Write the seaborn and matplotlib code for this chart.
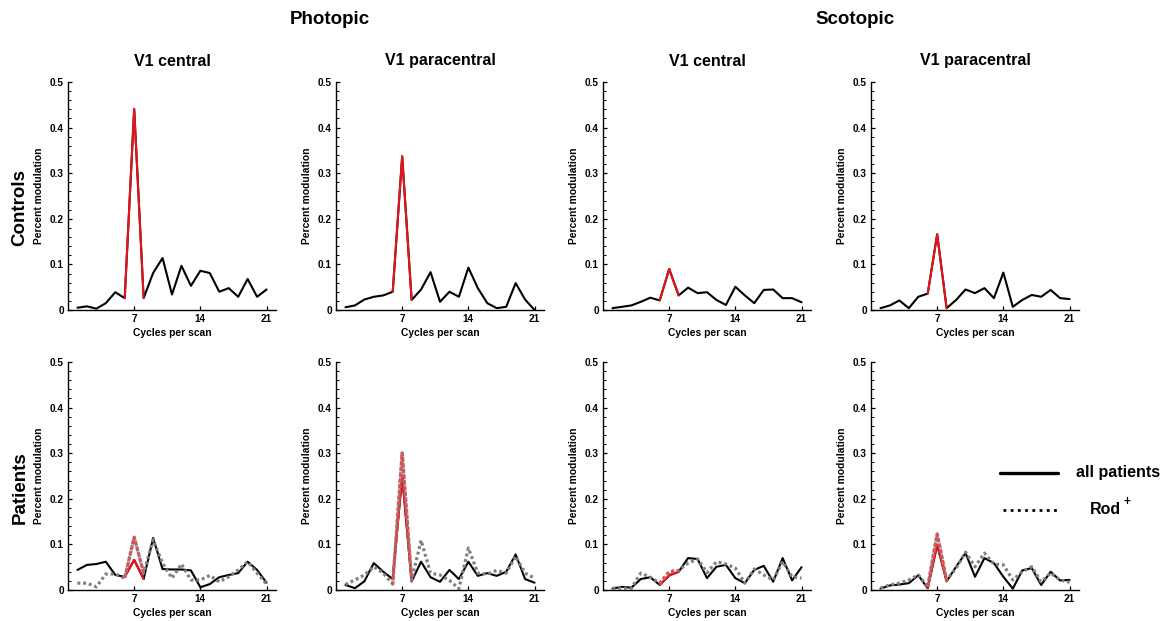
import numpy as np
import pandas as pd
import matplotlib
matplotlib.use("Agg")
import matplotlib.pyplot as plt
from matplotlib.lines import Line2D
from matplotlib.ticker import MultipleLocator
import seaborn as sns

# Temporal frequency (cycles per scan); stimulus frequency is 7
cycles = list(range(1, 22))
stim_band = [6, 7, 8]

# Controls (mean across subjects)
ctrl_photopic_central = [0.005, 0.008, 0.003, 0.015, 0.039, 0.026, 0.441, 0.026, 0.081, 0.114,
                         0.034, 0.097, 0.053, 0.086, 0.081, 0.040, 0.048, 0.029, 0.068, 0.029, 0.045]
ctrl_photopic_para = [0.006, 0.010, 0.023, 0.029, 0.032, 0.040, 0.337, 0.022, 0.045, 0.083,
                      0.018, 0.040, 0.029, 0.093, 0.048, 0.015, 0.004, 0.007, 0.059, 0.023, 0.000]
ctrl_scotopic_central = [0.004, 0.007, 0.010, 0.018, 0.027, 0.021, 0.090, 0.032, 0.049, 0.037,
                         0.039, 0.022, 0.011, 0.051, 0.032, 0.015, 0.044, 0.045, 0.026, 0.026, 0.017]
ctrl_scotopic_para = [0.004, 0.010, 0.021, 0.004, 0.029, 0.036, 0.166, 0.004, 0.022, 0.045,
                      0.037, 0.048, 0.026, 0.082, 0.007, 0.022, 0.033, 0.029, 0.044, 0.026, 0.024]

# Patients: all patients
pat_photopic_central = [0.044, 0.055, 0.057, 0.062, 0.033, 0.029, 0.066, 0.024, 0.114, 0.046,
                        0.045, 0.045, 0.043, 0.006, 0.013, 0.028, 0.033, 0.037, 0.062, 0.044, 0.016]
pat_photopic_para = [0.011, 0.004, 0.019, 0.059, 0.040, 0.024, 0.250, 0.019, 0.062, 0.028,
                     0.018, 0.044, 0.024, 0.062, 0.031, 0.037, 0.031, 0.040, 0.078, 0.024, 0.016]
pat_scotopic_central = [0.003, 0.007, 0.005, 0.024, 0.028, 0.011, 0.032, 0.040, 0.070, 0.068,
                        0.026, 0.051, 0.055, 0.026, 0.015, 0.044, 0.053, 0.018, 0.070, 0.021, 0.050]
pat_scotopic_para = [0.003, 0.010, 0.012, 0.015, 0.032, 0.004, 0.099, 0.019, 0.051, 0.081,
                     0.029, 0.070, 0.059, 0.029, 0.003, 0.043, 0.048, 0.011, 0.040, 0.021, 0.022]

# Patients: Rod+ subgroup
rod_photopic_central = [0.015, 0.015, 0.007, 0.035, 0.035, 0.026, 0.116, 0.037, 0.110, 0.059,
                        0.026, 0.057, 0.022, 0.022, 0.032, 0.018, 0.029, 0.044, 0.062, 0.037, 0.013]
rod_photopic_para = [0.012, 0.022, 0.033, 0.051, 0.037, 0.013, 0.301, 0.022, 0.109, 0.037,
                     0.033, 0.021, 0.003, 0.092, 0.037, 0.035, 0.043, 0.037, 0.074, 0.037, 0.026]
rod_scotopic_central = [0.004, 0.004, 0.004, 0.037, 0.028, 0.015, 0.040, 0.043, 0.059, 0.068,
                        0.038, 0.062, 0.057, 0.048, 0.015, 0.046, 0.033, 0.022, 0.062, 0.029, 0.026]
rod_scotopic_para = [0.004, 0.011, 0.015, 0.022, 0.033, 0.007, 0.123, 0.021, 0.048, 0.083,
                     0.051, 0.081, 0.057, 0.055, 0.022, 0.040, 0.051, 0.018, 0.037, 0.022, 0.017]

column_titles = ["V1 central", "V1 paracentral", "V1 central", "V1 paracentral"]
condition_titles = ["Photopic", "Scotopic"]
row_titles = ["Controls", "Patients"]
x_ticks = [7, 14, 21]
y_ticks = [0, 0.1, 0.2, 0.3, 0.4, 0.5]
y_tick_labels = ["0", "0.1", "0.2", "0.3", "0.4", "0.5"]

controls = [ctrl_photopic_central, ctrl_photopic_para, ctrl_scotopic_central, ctrl_scotopic_para]
patients = [pat_photopic_central, pat_photopic_para, pat_scotopic_central, pat_scotopic_para]
rodplus = [rod_photopic_central, rod_photopic_para, rod_scotopic_central, rod_scotopic_para]

sns.set_theme(style="ticks")
plt.rcParams["font.family"] = ["Liberation Sans", "DejaVu Sans"]
plt.rcParams["font.weight"] = "bold"
for key in ("text.color", "axes.labelcolor", "xtick.color", "ytick.color", "axes.edgecolor"):
    plt.rcParams[key] = "black"

W, H = 1173, 621
fig = plt.figure(figsize=(W / 100, H / 100), dpi=100)
fig.patch.set_facecolor("white")

RED = "#e8121b"
LIGHT_RED = "#ef4b52"
GREY = "#7f7f7f"
LW = 1.5
DOTS = (0, (0.9, 0.9))


def px_axes(left, top, width, height):
    return fig.add_axes([left / W, (H - top - height) / H, width / W, height / H])


def draw_series(ax, values, style, base_color, band_color, lw):
    df = pd.DataFrame({"cycle": cycles, "mod": values})
    sns.lineplot(data=df, x="cycle", y="mod", ax=ax, color=base_color,
                 linestyle=style, linewidth=lw, estimator=None)
    band = df[df["cycle"].isin(stim_band)]
    sns.lineplot(data=band, x="cycle", y="mod", ax=ax, color=band_color,
                 linestyle=style, linewidth=lw, estimator=None)


def style_axes(ax):
    ax.set_xlim(0, 22)
    ax.set_ylim(0, 0.5)
    ax.set_xticks(x_ticks)
    ax.set_xticklabels([str(t) for t in x_ticks])
    ax.set_yticks(y_ticks)
    ax.set_yticklabels(y_tick_labels)
    ax.yaxis.set_minor_locator(MultipleLocator(0.02))
    ax.tick_params(axis="both", which="major", direction="in", length=3, width=0.9,
                   labelsize=7.2, pad=3, colors="black")
    ax.tick_params(axis="y", which="minor", direction="in", length=1.8, width=0.7,
                   colors="black")
    for lab in ax.get_xticklabels() + ax.get_yticklabels():
        lab.set_fontweight("bold")
    sns.despine(ax=ax)
    for s in ("left", "bottom"):
        ax.spines[s].set_linewidth(1.0)
        ax.spines[s].set_color("black")
    ax.set_xlabel("Cycles per scan", fontsize=7.4, fontweight="bold", labelpad=3)
    ax.set_ylabel("Percent modulation", fontsize=7.4, fontweight="bold", labelpad=4)
    ax.set_facecolor("white")


lefts = [68, 336, 603, 871]
tops = [82, 362]
aw, ah = 208, 228

for j in range(4):
    ax = px_axes(lefts[j], tops[0], aw, ah)
    draw_series(ax, controls[j], "-", "black", RED, LW)
    style_axes(ax)

    ax = px_axes(lefts[j], tops[1], aw, ah)
    draw_series(ax, patients[j], "-", "black", RED, LW)
    draw_series(ax, rodplus[j], DOTS, GREY, LIGHT_RED, 2.3)
    style_axes(ax)

# Column headings
for j, t in enumerate(column_titles):
    fig.text((lefts[j] + aw / 2) / W, (H - 61) / H, t, ha="center", va="center",
             fontsize=11.5, fontweight="bold")

fig.text(330 / W, (H - 19) / H, condition_titles[0], ha="center", va="center",
         fontsize=13.5, fontweight="bold")
fig.text(855 / W, (H - 19) / H, condition_titles[1], ha="center", va="center",
         fontsize=13.5, fontweight="bold")

fig.text(20 / W, (H - 208) / H, row_titles[0], ha="center", va="center",
         rotation=90, fontsize=13.5, fontweight="bold")
fig.text(20 / W, (H - 488) / H, row_titles[1], ha="center", va="center",
         rotation=90, fontsize=13.5, fontweight="bold")

# Line-style key for the patient rows
fig.add_artist(Line2D([1000 / W, 1058 / W], [(H - 473) / H] * 2, color="black",
                      linewidth=2.4, transform=fig.transFigure))
fig.add_artist(Line2D([1003 / W, 1060 / W], [(H - 510) / H] * 2, color="black",
                      linewidth=2.0, linestyle=(0, (1, 1.6)), transform=fig.transFigure))
fig.text(1076 / W, (H - 473) / H, "all patients", ha="left", va="center",
         fontsize=11.5, fontweight="bold")
fig.text(1090 / W, (H - 509) / H, "Rod", ha="left", va="center",
         fontsize=11.5, fontweight="bold")
fig.text(1123 / W, (H - 502) / H, "+", ha="left", va="center",
         fontsize=8.5, fontweight="bold")

fig.savefig("out.png", dpi=100, facecolor="white")
